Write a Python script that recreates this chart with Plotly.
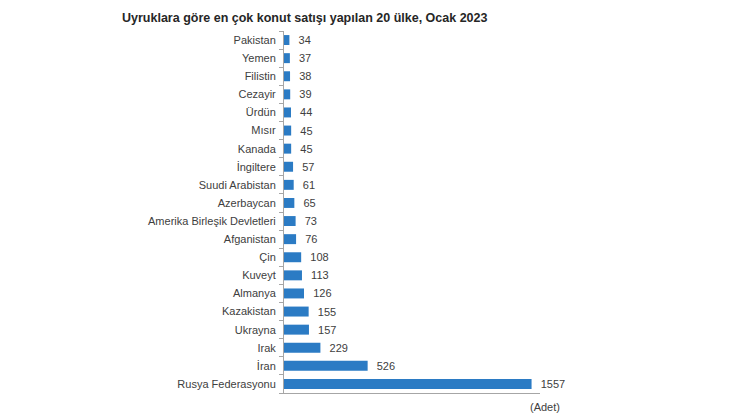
import plotly.graph_objects as go

# Ocak 2023, uyruklara gore konut satisi (ilk 20 ulke)
countries = ["Pakistan", "Yemen", "Filistin", "Cezayir", "Ürdün", "Mısır", "Kanada",
             "İngiltere", "Suudi Arabistan", "Azerbaycan", "Amerika Birleşik Devletleri",
             "Afganistan", "Çin", "Kuveyt", "Almanya", "Kazakistan", "Ukrayna", "Irak",
             "İran", "Rusya Federasyonu"]
sales = [34, 37, 38, 39, 44, 45, 45, 57, 61, 65, 73, 76, 108, 113, 126, 155, 157, 229,
         526, 1557]

title = "Uyruklara göre en çok konut satışı yapılan 20 ülke, Ocak 2023"
unit_label = "(Adet)"

bar_color = "#2B7BC4"
text_color = "#404040"
axis_color = "#A6A6A6"

# page has an 8px body margin, so the plot box is shifted by that
ml, mr, mt, mb = 276, 198, 23, 35
W, H = 730, 420
pw, ph = W - ml - mr, H - mt - mb

fig = go.Figure()
fig.add_trace(go.Bar(
    x=sales,
    y=countries,
    orientation="h",
    marker=dict(color=bar_color, line_width=0),
    width=0.55,
    text=sales,
    texttemplate="  %{x}",
    textposition="outside",
    constraintext="none",
    cliponaxis=False,
    textfont=dict(family="Liberation Sans", size=11, color=text_color),
    hoverinfo="skip",
))

fig.update_layout(
    width=W,
    height=H,
    margin=dict(l=ml, r=mr, t=mt, b=mb),
    paper_bgcolor="white",
    plot_bgcolor="white",
    showlegend=False,
    font=dict(family="Liberation Sans", size=11, color=text_color),
    annotations=[
        dict(text="<b>" + title + "</b>", x=(112 - ml) / pw, y=1 + (mt - 10) / ph,
             xref="paper", yref="paper", xanchor="left", yanchor="middle",
             showarrow=False, font=dict(size=12.5, color="#262626")),
        dict(text=unit_label, x=(562 - 8 - ml) / pw, y=-(400 - 8 - 385 + 7) / ph,
             xref="paper", yref="paper", xanchor="right", yanchor="middle",
             showarrow=False, font=dict(size=11, color=text_color)),
    ],
)

fig.update_xaxes(range=[0, 1610], showticklabels=False, ticks="",
                 showgrid=False, zeroline=False, showline=True, linecolor=axis_color,
                 linewidth=1)
fig.update_yaxes(categoryorder="array", categoryarray=countries[::-1],
                 showgrid=False, showline=True,
                 linecolor=axis_color, linewidth=1, ticks="outside", ticklen=4,
                 tickcolor=axis_color, tickson="boundaries", ticklabelstandoff=5)

fig.write_html("out.html")
